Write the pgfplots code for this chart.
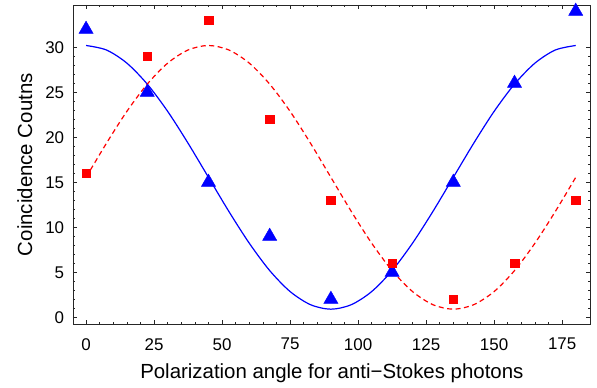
\documentclass[border=0pt]{standalone}
\usepackage{fontspec}
\setmainfont{Liberation Sans}
\usepackage{pgfplots}
\pgfplotsset{compat=1.18}
\begin{document}
\begin{tikzpicture}[font=\fontsize{20.5}{24}\selectfont]
\begin{axis}[
  scale only axis, width=517.7bp, height=319.3bp,
  xmin=-4.8, xmax=185.5, ymin=-0.78, ymax=34.7,
  xtick={0,25,...,175}, ytick={0,5,...,30},
  minor x tick num=4, minor y tick num=4,
  tick align=inside, major tick length=4.5bp, minor tick length=2.5bp,
  axis line style={line width=0.8bp, black!85},
  every tick/.style={black!85, line width=0.6bp},
  /pgf/number format/assume math mode=true,
  tick label style={font=\fontsize{17}{20}\selectfont},
  xticklabel style={anchor=north, inner sep=0pt, yshift=-13.7bp},
  yticklabel style={anchor=east, inner sep=0pt, xshift=-8.7bp},
  xlabel={Polarization angle for anti−Stokes photons},
  ylabel={Coincidence Coutns},
  xlabel style={at={(axis description cs:0.5,-0.1682)}, anchor=base, inner sep=0pt},
  ylabel style={at={(axis description cs:-0.0792,0.5)}, anchor=base, inner sep=0pt},
  clip=false,
]
\addplot[blue, line width=1.2bp, smooth] coordinates {(0,30.20)(7.5,29.70)(15,28.24)(22.5,25.91)(30,22.88)(37.5,19.34)(45,15.55)(52.5,11.76)(60,8.23)(67.5,5.19)(75,2.86)(82.5,1.40)(90,0.90)(97.5,1.40)(105,2.86)(112.5,5.19)(120,8.23)(127.5,11.76)(135,15.55)(142.5,19.34)(150,22.88)(157.5,25.91)(165,28.24)(172.5,29.70)(180,30.20)};
\addplot[red, line width=1.2bp, smooth, dash pattern=on 5bp off 3.5bp] coordinates {(0,15.55)(7.5,19.34)(15,22.88)(22.5,25.91)(30,28.24)(37.5,29.70)(45,30.20)(52.5,29.70)(60,28.24)(67.5,25.91)(75,22.88)(82.5,19.34)(90,15.55)(97.5,11.76)(105,8.23)(112.5,5.19)(120,2.86)(127.5,1.40)(135,0.90)(142.5,1.40)(150,2.86)(157.5,5.19)(165,8.23)(172.5,11.76)(180,15.55)};
\addplot[only marks, mark=triangle*, mark size=8.2bp, blue, mark options={line width=0.4bp}] coordinates {(0,32)(22.5,25)(45,15)(67.5,9)(90,2)(112.5,5)(135,15)(157.5,26)(180,34)};
\addplot[only marks, mark=square*, mark size=4.3bp, red, mark options={line width=0.4bp}] coordinates {(0,16)(22.5,29)(45,33)(67.5,22)(90,13)(112.5,6)(135,2)(157.5,6)(180,13)};
\end{axis}
\pgfresetboundingbox
\path ([shift={(-73bp,-63.7bp)}]current axis.south west) rectangle ([shift={(6.3bp,5bp)}]current axis.north east);
\end{tikzpicture}
\end{document}
